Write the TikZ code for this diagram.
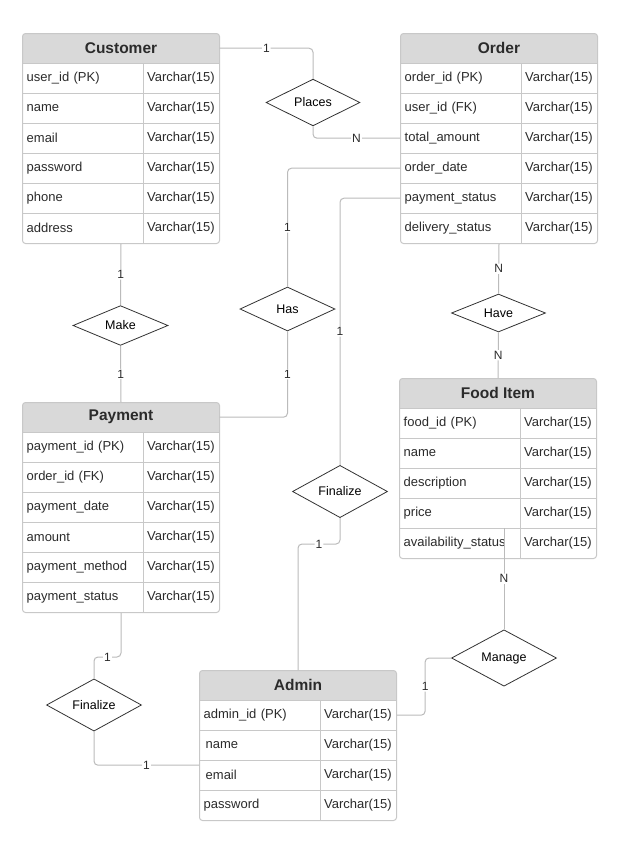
\documentclass[tikz,border=0pt]{standalone}
\usepackage{fontspec}
\setmainfont{Liberation Sans}
\usetikzlibrary{calc,shapes.geometric}

\definecolor{headgray}{HTML}{D9D9D9}
\definecolor{gridgray}{HTML}{C8C8C8}
\definecolor{linkgray}{HTML}{BBBBBB}
\definecolor{txtgray}{HTML}{2B2B2B}

\tikzset{
  tablebox/.style={draw=gridgray, line width=1pt, fill=white, rounded corners=3pt,
    minimum width=197pt, anchor=north west, inner sep=0pt,
    path picture={\fill[headgray, sharp corners] (path picture bounding box.north west)
      rectangle ([yshift=-30pt]path picture bounding box.north east);}},
  headcell/.style={minimum width=197pt, minimum height=30pt, inner sep=0pt,
    text=txtgray, font=\fontsize{15.5}{18}\selectfont\bfseries},
  fieldcell/.style={minimum height=30pt, text width=112pt, inner xsep=4.5pt, inner ysep=0pt,
    align=left, text=txtgray, font=\fontsize{13}{15}\selectfont, anchor=north west},
  typecell/.style={minimum height=30pt, text width=69pt, inner xsep=3.5pt, inner ysep=0pt,
    align=left, text=txtgray, font=\fontsize{13}{15}\selectfont, anchor=west},
  gridline/.style={draw=gridgray, line width=1pt},
  relation/.style={diamond, draw=black!80, line width=0.8pt, fill=white, inner sep=0pt,
    font=\fontsize{12.5}{14}\selectfont},
  link/.style={draw=linkgray, line width=1pt, rounded corners=4pt},
  lab/.style={fill=white, inner sep=1pt, text=txtgray, font=\fontsize{12}{14}\selectfont}
}

% name, north west corner, title, number of rows, rows
\newcommand{\ertable}[5]{%
  \node[tablebox, minimum height={30pt*(#4+1)}] (#1-box) at (#2) {};
  \node[headcell, anchor=north] (#1) at (#1-box.north) {#3};
  \foreach \fld/\typ [count=\i] in {#5} {
    \node[fieldcell] (#1-\i) at ($(#1-box.north west)+(0,30*\i)$) {\fld};
    \node[typecell] (#1-\i-t) at (#1-\i.east) {\typ};
    \draw[gridline] (#1-\i.north west) -- (#1-\i-t.north east);
    \draw[gridline] (#1-\i.north east) -- (#1-\i.south east);
  }
}

\begin{document}
\begin{tikzpicture}[x=1pt, y=-1pt]
  \useasboundingbox[fill=white] (0,0) rectangle (626,854);

  % entities
  \ertable{customer}{22,33}{Customer}{6}{user\_id (PK)/Varchar(15), name/Varchar(15),
    email/Varchar(15), password/Varchar(15), phone/Varchar(15), address/Varchar(15)}
  \ertable{order}{400,33}{Order}{6}{order\_id (PK)/Varchar(15), user\_id (FK)/Varchar(15),
    total\_amount/Varchar(15), order\_date/Varchar(15), payment\_status/Varchar(15),
    delivery\_status/Varchar(15)}
  \ertable{payment}{22,402}{Payment}{6}{payment\_id (PK)/Varchar(15), order\_id (FK)/Varchar(15),
    payment\_date/Varchar(15), amount/Varchar(15), payment\_method/Varchar(15),
    payment\_status/Varchar(15)}
  \ertable{food}{399,378}{Food Item}{5}{food\_id (PK)/Varchar(15), name/Varchar(15),
    description/Varchar(15), price/Varchar(15), availability\_status/Varchar(15)}
  \ertable{admin}{199,670}{Admin}{4}{admin\_id (PK)/Varchar(15), \hspace{2pt}name/Varchar(15),
    \hspace{2pt}email/Varchar(15), password/Varchar(15)}

  % relationships
  \node[relation, minimum width=94pt, minimum height=40pt] (places) at (313,102.5) {Places};
  \node[relation, minimum width=95pt, minimum height=35pt] (make) at (120.5,325.5) {Make};
  \node[relation, minimum width=95pt, minimum height=44pt] (has) at (287.5,309) {Has};
  \node[relation, minimum width=94pt, minimum height=35pt] (have) at (498.5,313) {Have};
  \node[relation, minimum width=95pt, minimum height=51pt] (finalA) at (340,491.5) {Finalize};
  \node[relation, minimum width=105pt, minimum height=42pt] (manage) at (504,658) {Manage};
  \node[relation, minimum width=95pt, minimum height=52pt] (finalB) at (94,705) {Finalize};

  \coordinate (adminin) at ($(admin-3.west)+(0,-10)$);

  % connectors
  \draw[link] (customer.east) -| node[lab, pos=0.25] {1} (places.north);
  \draw[link] (places.south) |- node[lab, pos=0.75] {N} (order-3.west);
  \draw[link] (order-4.west) -| node[lab, pos=0.75] {1} (has.north);
  \draw[link] (has.south) |- node[lab, pos=0.25] {1} (payment.east);
  \draw[link] (order-5.west) -| node[lab, pos=0.75] {1} (finalA.north);
  \draw[link] (finalA.south) -- ++(0,26) -| node[lab, pos=0.25] {1} (admin.north);
  \draw[link] (customer-box.south) -- node[lab] {1} (make.north);
  \draw[link] (make.south) -- node[lab] {1} (payment-box.north);
  \draw[link] (order-box.south) -- node[lab] {N} (have.north);
  \draw[link] (have.south) -- node[lab] {N} (food-box.north);
  \draw[link] (food-5.north -| manage.north) -- node[lab] {N} (manage.north);
  \draw[link] (manage.west) -- ++(-26,0) |- node[lab, pos=0.25] {1} (admin-1-t.east);
  \draw[link] (payment-box.south) -- ++(0,44) -| node[lab, pos=0.25] {1} (finalB.north);
  \draw[link] (finalB.south) |- node[lab, pos=0.75] {1} (adminin);
\end{tikzpicture}
\end{document}
